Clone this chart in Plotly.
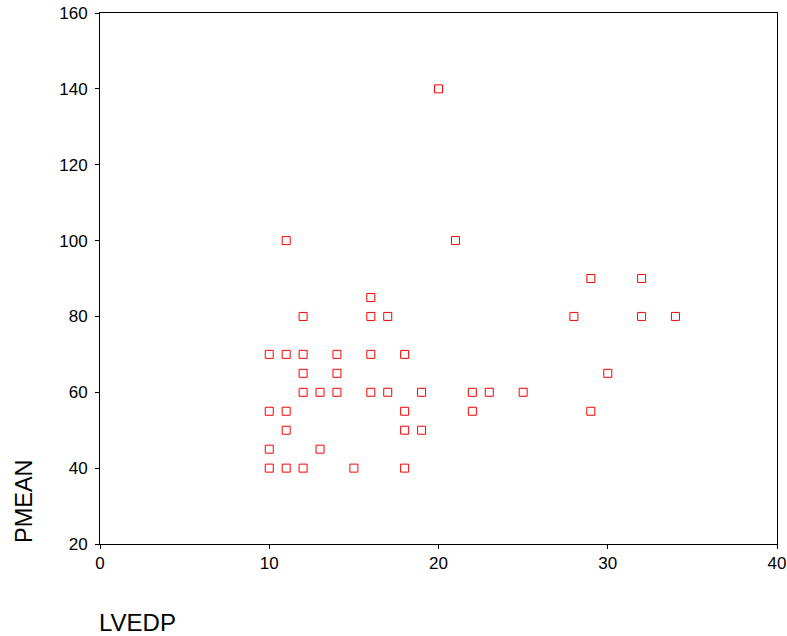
import plotly.graph_objects as go

lvedp = [20, 11, 21, 29, 32, 16,
         12, 16, 17, 28, 32, 34,
         10, 11, 12, 14, 16, 18,
         12, 14, 30,
         12, 13, 14, 16, 17, 19, 22, 23, 25,
         10, 11, 18, 22, 29,
         11, 18, 19,
         10, 13,
         10, 11, 12, 15, 18]
pmean = [140, 100, 100, 90, 90, 85,
         80, 80, 80, 80, 80, 80,
         70, 70, 70, 70, 70, 70,
         65, 65, 65,
         60, 60, 60, 60, 60, 60, 60, 60, 60,
         55, 55, 55, 55, 55,
         50, 50, 50,
         45, 45,
         40, 40, 40, 40, 40]

x_ticks = [0, 10, 20, 30, 40]
y_ticks = [20, 40, 60, 80, 100, 120, 140, 160]

FONT = "Liberation Sans, Arial, sans-serif"

fig = go.Figure()
fig.add_trace(go.Scatter(
    x=lvedp, y=pmean, mode="markers",
    marker=dict(symbol="square-open", size=8, color="#ff0000",
                line=dict(width=1, color="#ff0000")),
    showlegend=False, hoverinfo="x+y"))

axis_common = dict(showline=True, linecolor="black", linewidth=1, mirror=True,
                   showgrid=False, zeroline=False, ticks="outside", ticklen=4,
                   tickcolor="black", tickwidth=1, automargin=False,
                   ticklabeloverflow="allow",
                   tickfont=dict(family=FONT, size=17, color="black"))

fig.update_xaxes(range=[0, 40], tickvals=x_ticks, ticklabelstandoff=0, **axis_common)
fig.update_yaxes(range=[20, 160], tickvals=y_ticks, ticklabelstandoff=4, **axis_common)

fig.update_layout(
    width=787, height=636,
    margin=dict(l=100, r=10, t=13, b=92),
    paper_bgcolor="white", plot_bgcolor="white",
    font=dict(family=FONT, color="black"),
    annotations=[
        dict(text="LVEDP", xref="paper", yref="paper", x=0, y=0,
             xanchor="left", yanchor="middle", xshift=-3, yshift=-78,
             showarrow=False, font=dict(family=FONT, size=24, color="black")),
        dict(text="PMEAN", xref="paper", yref="paper", x=0, y=0,
             xanchor="center", yanchor="bottom", xshift=-76, yshift=-1,
             textangle=-90, showarrow=False,
             font=dict(family=FONT, size=23.5, color="black")),
    ],
)

fig.write_html("out.html",
               config={"displayModeBar": False},
               post_script="document.body.style.margin='0';document.body.style.overflow='hidden';")
